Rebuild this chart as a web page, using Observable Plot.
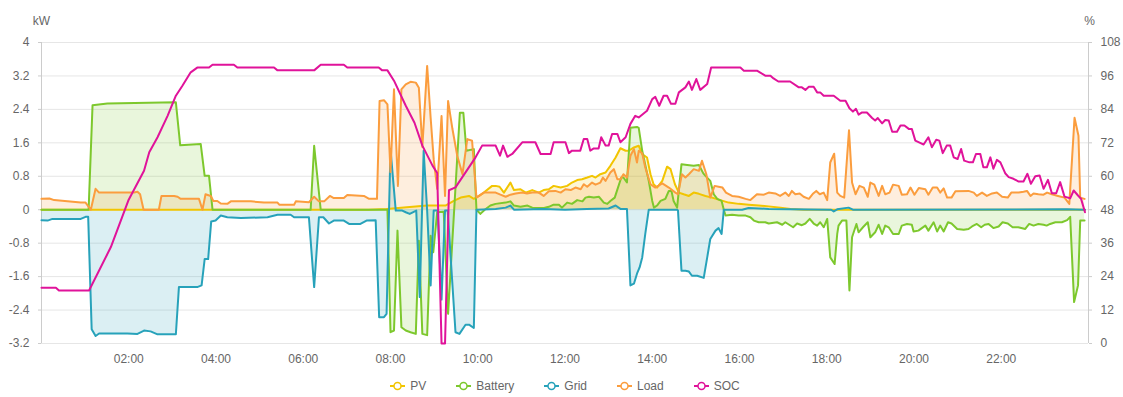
<!DOCTYPE html>
<html><head><meta charset="utf-8">
<script src="https://cdn.jsdelivr.net/npm/d3@7"></script>
<script src="https://cdn.jsdelivr.net/npm/@observablehq/plot@0.6"></script>
<style>
body{margin:0;background:#fff;font-family:"Liberation Sans",Arial,sans-serif;}
#legend{display:flex;justify-content:center;gap:30px;height:32px;align-items:center;padding-top:9px;padding-left:7px;box-sizing:border-box;font-size:12px;color:#666;}
.item{display:flex;align-items:center;gap:5px;}
</style></head><body>
<div id="chart"></div><div id="legend"></div>
<script>
// time in hours of day, values in kW (SOC in %)
const pvData = [[0,0],[7.5,0],[7.91,0.02],[8.84,0.1],[9.26,0.1],[9.45,0.21],[9.61,0.29],[9.8,0.33],[9.91,0.26],[10.03,0.33],[10.14,0.41],[10.33,0.57],[10.41,0.57],[10.5,0.55],[10.6,0.41],[10.75,0.65],[10.83,0.47],[10.98,0.49],[11.1,0.41],[11.25,0.47],[11.4,0.41],[11.51,0.47],[11.63,0.49],[11.74,0.57],[11.9,0.53],[12.05,0.57],[12.16,0.65],[12.28,0.71],[12.39,0.73],[12.51,0.77],[12.62,0.81],[12.7,0.77],[12.81,0.85],[12.93,0.89],[13.04,1.05],[13.16,1.25],[13.27,1.47],[13.39,1.41],[13.46,1.41],[13.58,1.49],[13.69,1.53],[13.77,1.33],[13.88,1.25],[13.96,0.85],[14.03,0.61],[14.11,0.53],[14.23,0.69],[14.34,1.03],[14.42,0.97],[14.52,0.61],[14.61,0.41],[14.72,0.37],[14.84,0.33],[14.95,0.41],[15.07,0.38],[15.22,0.33],[15.37,0.29],[15.56,0.23],[15.75,0.17],[15.98,0.14],[16.21,0.12],[16.44,0.1],[16.67,0.08],[16.94,0.05],[17.17,0.02],[17.47,0],[23.92,0]];

const batteryData = [[0,0],[1.08,0],[1.17,2.5],[1.51,2.54],[3.08,2.57],[3.18,1.54],[3.65,1.57],[3.74,0.81],[3.84,0.81],[3.92,0],[6.17,0],[6.25,1.53],[6.4,0],[7.93,0],[8.0,-2.93],[8.08,-2.89],[8.16,-0.5],[8.25,-2.81],[8.35,-2.89],[8.46,-2.93],[8.58,-2.97],[8.65,-0.74],[8.73,-2.97],[8.84,-3.0],[8.92,-0.62],[8.98,-1.02],[9.07,-0.06],[9.22,-0.05],[9.32,-2.49],[9.59,2.32],[9.67,2.32],[9.74,1.41],[9.91,1.45],[9.97,0],[10.06,-0.1],[10.16,0],[10.29,0.1],[10.41,0.14],[10.64,0.17],[10.75,0.2],[10.83,0.1],[10.98,0.07],[11.14,0.1],[11.25,0.05],[11.52,0.04],[11.63,0.07],[11.74,0.12],[11.86,0.12],[11.93,0.05],[12.05,0.17],[12.16,0.14],[12.28,0.23],[12.4,0.2],[12.47,0.29],[12.55,0.31],[12.66,0.29],[12.78,0.31],[12.89,0.17],[12.97,0.14],[13.04,0.21],[13.14,0.29],[13.29,0.77],[13.34,0.77],[13.42,0.65],[13.5,1.96],[13.65,1.98],[13.69,1.96],[13.77,1.41],[13.92,0.69],[14.0,0.21],[14.04,0.05],[14.11,0.1],[14.19,0.21],[14.3,0.26],[14.38,0.45],[14.44,0.45],[14.49,0.21],[14.57,0.05],[14.67,1.09],[14.8,1.07],[14.95,1.05],[15.07,1.07],[15.17,0.87],[15.22,0.81],[15.33,0.69],[15.41,0.37],[15.49,0.26],[15.59,0.21],[15.64,0],[15.68,-0.14],[15.83,-0.12],[15.98,-0.14],[16.14,-0.14],[16.25,-0.18],[16.33,-0.26],[16.44,-0.3],[16.59,-0.3],[16.67,-0.33],[16.86,-0.3],[16.98,-0.36],[17.05,-0.3],[17.23,-0.42],[17.32,-0.33],[17.43,-0.37],[17.51,-0.33],[17.61,-0.22],[17.7,-0.33],[17.78,-0.38],[17.85,-0.3],[17.93,-0.42],[18.01,-0.22],[18.08,-1.14],[18.18,-1.3],[18.24,-0.58],[18.27,-0.38],[18.35,-0.26],[18.45,-0.26],[18.52,-1.93],[18.58,-0.66],[18.68,-0.34],[18.73,-0.54],[18.83,-0.42],[18.94,-0.3],[19.0,-0.66],[19.11,-0.54],[19.19,-0.36],[19.27,-0.58],[19.34,-0.38],[19.42,-0.42],[19.52,-0.58],[19.65,-0.58],[19.72,-0.38],[19.84,-0.34],[19.95,-0.36],[19.99,-0.52],[20.1,-0.5],[20.26,-0.38],[20.33,-0.5],[20.45,-0.3],[20.53,-0.52],[20.6,-0.38],[20.68,-0.52],[20.78,-0.3],[20.86,-0.33],[20.99,-0.46],[21.14,-0.48],[21.25,-0.46],[21.33,-0.4],[21.44,-0.34],[21.54,-0.42],[21.62,-0.36],[21.71,-0.34],[21.82,-0.44],[21.94,-0.4],[22.03,-0.3],[22.15,-0.33],[22.26,-0.42],[22.39,-0.42],[22.55,-0.46],[22.64,-0.34],[22.74,-0.38],[22.85,-0.34],[22.97,-0.36],[23.04,-0.38],[23.12,-0.34],[23.24,-0.3],[23.39,-0.3],[23.51,-0.25],[23.58,-0.17],[23.67,-2.21],[23.76,-1.81],[23.81,-0.26],[23.91,-0.26]];

const gridData = [[0,-0.25],[0.14,-0.26],[0.25,-0.22],[0.9,-0.22],[1.01,-0.17],[1.07,-0.17],[1.15,-2.86],[1.24,-3.02],[1.32,-2.96],[1.97,-2.96],[2.2,-2.97],[2.35,-2.89],[2.5,-2.91],[2.66,-2.98],[3.08,-2.98],[3.15,-1.85],[3.57,-1.85],[3.67,-1.81],[3.74,-1.18],[3.82,-1.18],[3.89,-0.28],[3.99,-0.26],[4.11,-0.14],[4.26,-0.18],[4.57,-0.2],[5.18,-0.18],[5.41,-0.12],[5.71,-0.12],[5.79,-0.18],[6.13,-0.18],[6.25,-1.85],[6.36,-0.18],[6.46,-0.18],[6.59,-0.33],[6.7,-0.26],[6.93,-0.26],[7.05,-0.34],[7.31,-0.34],[7.45,-0.26],[7.66,-0.25],[7.74,-2.57],[7.85,-2.57],[7.91,-2.49],[8.0,1.45],[8.12,-0.02],[8.27,-0.02],[8.35,-0.06],[8.44,-0.1],[8.59,-0.02],[8.67,-2.09],[8.76,1.41],[8.84,-0.02],[8.92,-1.81],[8.99,-0.02],[9.08,-0.02],[9.17,-2.15],[9.25,-0.02],[9.31,-0.02],[9.49,-2.93],[9.58,-2.97],[9.72,-2.75],[9.8,-2.75],[9.91,-2.83],[9.97,0],[10.41,0.02],[10.64,0.05],[10.75,0.1],[10.83,0],[11.5,0.02],[12.0,0],[12.5,0.02],[13.0,0.03],[13.16,0.1],[13.27,0.02],[13.42,0.02],[13.5,-1.81],[13.58,-1.77],[13.65,-1.53],[13.71,-1.38],[13.77,-1.14],[13.84,-0.58],[13.92,0],[14.57,0],[14.59,-0.02],[14.67,-1.46],[14.76,-1.46],[14.84,-1.48],[14.91,-1.58],[15.03,-1.58],[15.18,-1.63],[15.26,-1.14],[15.33,-0.7],[15.45,-0.5],[15.52,-0.44],[15.59,-0.58],[15.64,0],[16.06,0],[16.21,0.04],[16.67,0.02],[18.1,0],[18.16,-0.04],[18.24,0.01],[18.5,0.05],[18.6,0],[23.5,0.01],[23.92,0]];

const loadData = [[0,0.26],[0.18,0.27],[0.29,0.23],[0.9,0.17],[1.01,0.17],[1.13,0],[1.24,0.5],[1.32,0.41],[2.12,0.41],[2.2,0.43],[2.26,0.37],[2.34,0],[2.69,0],[2.75,0.33],[3.04,0.33],[3.12,0.31],[3.19,0.26],[3.61,0.26],[3.69,0],[3.76,0.37],[3.88,0.33],[3.94,0.21],[4.03,0.21],[4.11,0.15],[4.26,0.14],[4.34,0.2],[4.8,0.2],[5.1,0.17],[5.41,0.17],[5.45,0.12],[5.79,0.12],[5.83,0.2],[6.13,0.18],[6.25,0.31],[6.36,0.2],[6.48,0.2],[6.61,0.33],[6.7,0.28],[6.93,0.28],[7.01,0.35],[7.39,0.33],[7.51,0.26],[7.69,0.26],[7.75,2.6],[7.85,2.62],[7.93,2.52],[8.0,0.9],[8.08,2.88],[8.17,0.57],[8.25,2.88],[8.35,3.0],[8.46,3.06],[8.58,3.04],[8.65,2.92],[8.73,1.5],[8.84,3.44],[8.92,2.2],[8.99,1.21],[9.07,0.5],[9.17,2.24],[9.25,0.33],[9.32,2.6],[9.42,1.93],[9.53,1.29],[9.65,0.85],[9.76,1.69],[9.87,1.65],[9.97,0.29],[10.14,0.41],[10.29,0.41],[10.41,0.41],[10.52,0.36],[10.64,0.31],[10.75,0.36],[10.87,0.39],[11.02,0.41],[11.13,0.39],[11.25,0.41],[11.4,0.41],[11.51,0.33],[11.63,0.44],[11.78,0.45],[11.9,0.41],[12.01,0.49],[12.13,0.47],[12.24,0.53],[12.36,0.49],[12.43,0.61],[12.51,0.55],[12.62,0.65],[12.7,0.6],[12.81,0.65],[12.87,0.77],[12.93,0.69],[13.04,0.89],[13.12,0.97],[13.2,0.73],[13.27,0.73],[13.34,0.85],[13.42,0.77],[13.5,1.29],[13.58,1.45],[13.65,1.13],[13.69,1.41],[13.77,1.35],[13.84,1.01],[13.96,0.61],[14.07,0.53],[14.23,0.63],[14.38,0.53],[14.53,0.41],[14.59,0.37],[14.68,0.85],[14.76,0.77],[14.84,0.85],[14.95,0.97],[15.07,0.93],[15.14,1.17],[15.24,0.85],[15.33,0.29],[15.43,0.57],[15.52,0.55],[15.61,0.53],[15.69,0.41],[15.83,0.33],[15.98,0.31],[16.14,0.26],[16.25,0.23],[16.4,0.37],[16.56,0.36],[16.67,0.41],[16.82,0.39],[16.93,0.33],[17.05,0.41],[17.13,0.33],[17.2,0.45],[17.28,0.37],[17.38,0.39],[17.47,0.31],[17.59,0.26],[17.69,0.39],[17.76,0.45],[17.84,0.37],[17.93,0.41],[18.01,0.23],[18.08,1.13],[18.17,1.34],[18.24,0.41],[18.31,0.33],[18.4,0.29],[18.51,1.9],[18.58,0.65],[18.66,0.37],[18.75,0.57],[18.85,0.53],[18.94,0.31],[19.0,0.65],[19.09,0.6],[19.19,0.33],[19.27,0.57],[19.34,0.37],[19.44,0.41],[19.52,0.6],[19.65,0.57],[19.72,0.36],[19.84,0.37],[19.92,0.53],[20.01,0.36],[20.11,0.52],[20.26,0.49],[20.33,0.36],[20.43,0.53],[20.53,0.53],[20.6,0.41],[20.68,0.51],[20.76,0.29],[20.86,0.29],[20.95,0.44],[21.25,0.45],[21.37,0.41],[21.44,0.33],[21.56,0.41],[21.67,0.33],[21.79,0.39],[21.9,0.41],[22.02,0.31],[22.15,0.29],[22.23,0.41],[22.4,0.41],[22.51,0.43],[22.59,0.45],[22.67,0.33],[22.74,0.39],[22.85,0.37],[22.97,0.36],[23.05,0.41],[23.16,0.37],[23.3,0.33],[23.45,0.29],[23.56,0.14],[23.68,2.2],[23.77,1.77],[23.81,0.29],[23.91,0.26]];

const socData = [[0,20],[0.33,20],[0.4,19],[1.09,19],[1.59,34.6],[1.99,51.3],[2.35,62],[2.47,68.6],[2.66,74],[2.89,81.7],[3.08,88.9],[3.23,92.5],[3.42,97.3],[3.57,99],[3.84,99],[3.92,100],[4.41,100],[4.49,99],[5.33,99],[5.41,98],[6.25,98],[6.4,100],[6.93,100],[7.01,99],[7.73,99],[7.81,98],[7.93,98],[8.08,94.3],[8.35,85.3],[8.55,79.2],[8.73,71],[8.96,63.9],[9.07,61.2],[9.17,0],[9.25,0],[9.34,55],[9.49,56],[9.95,66.8],[10.1,71],[10.41,71],[10.51,67.4],[10.58,71],[10.68,67],[10.79,68],[11.02,72.2],[11.32,72.2],[11.44,68],[11.67,68],[11.74,72.2],[12.01,72.2],[12.09,68.3],[12.16,69.2],[12.35,69.2],[12.43,73.4],[12.51,73.4],[12.58,69.2],[12.66,70],[12.77,70],[12.83,74],[12.93,71],[13.0,71],[13.08,75.2],[13.2,75.2],[13.27,72.2],[13.39,74],[13.5,78.8],[13.61,81.7],[13.69,81.1],[13.88,83.5],[14.0,87.7],[14.07,88.5],[14.16,85.3],[14.26,88.9],[14.34,88.9],[14.43,86],[14.53,86],[14.61,90.1],[14.76,91.9],[14.84,94],[14.91,91],[15.01,94.9],[15.1,91],[15.26,93.1],[15.35,99],[16.02,99],[16.1,97.9],[16.4,97.9],[16.59,96.1],[16.71,96.1],[16.78,95.1],[16.89,94],[17.16,94],[17.36,91.9],[17.43,91.9],[17.51,91],[17.59,92.1],[17.7,92.1],[17.78,90.1],[17.85,90.1],[17.93,88.9],[18.16,88.9],[18.31,87.1],[18.43,87.1],[18.52,84.4],[18.6,83.2],[18.67,84.2],[18.73,82.1],[18.81,82.9],[18.92,82.9],[19.04,80.9],[19.11,80],[19.17,80.9],[19.27,79],[19.34,80.2],[19.42,80],[19.5,76],[19.61,76],[19.69,78.2],[19.78,78.2],[19.88,77],[19.95,77],[20.03,72.8],[20.14,72],[20.22,71.4],[20.33,74],[20.41,70.4],[20.51,73.1],[20.58,72.8],[20.66,68.3],[20.75,71],[20.83,71],[20.91,66.8],[21.0,66.2],[21.08,69.8],[21.15,65.6],[21.27,65],[21.35,65],[21.42,68],[21.52,68],[21.59,63.2],[21.67,63.2],[21.75,66.8],[21.82,62.7],[21.9,65.9],[21.98,65],[22.09,61.1],[22.17,59.7],[22.28,59.1],[22.4,58.1],[22.51,58.1],[22.6,60.9],[22.68,57.3],[22.78,60],[22.88,60.3],[22.97,55.5],[23.07,58.7],[23.16,53.9],[23.26,53.9],[23.35,57.9],[23.45,52.7],[23.58,52.1],[23.66,54.9],[23.76,53.1],[23.83,51.9],[23.92,47.1]];

const seriesNames = ["PV","Battery","Grid","Load","SOC"];
const seriesColors = ["#f2c500","#7dc82d","#27a2ba","#fb9d3e","#e0139a"];
const kwTicks = [-3.2,-2.4,-1.6,-0.8,0,0.8,1.6,2.4,3.2,4];
const socTicks = [0,12,24,36,48,60,72,84,96,108];
const hourTicks = [2,4,6,8,10,12,14,16,18,20,22];
const xDomain = [0,24];

// SOC (%) shares the frame with kW: 0% ↔ -3.2 kW, 108% ↔ 4 kW
const socToKw = s => (s - 48) / 15;
const rows = (arr) => arr.map(([h, v]) => ({h, v}));
const kwSeries = [pvData, batteryData, gridData, loadData];

const marks = [
  Plot.gridY(kwTicks, {stroke:"#e6e6e6", strokeOpacity:1}),
  Plot.ruleX([xDomain[0]], {stroke:"#ccc"}),
  Plot.ruleX([xDomain[1]], {stroke:"#ccc"}),
  Plot.axisY(kwTicks, {anchor:"left", label:null, tickSize:3, tickPadding:9, stroke:"#ccc", fill:"#666", fontSize:12, tickFormat: d => String(d)}),
  Plot.axisY(socTicks.map(socToKw), {anchor:"right", label:null, tickSize:3, tickPadding:9, stroke:"#ccc", fill:"#666", fontSize:12, tickFormat: d => String(Math.round(d * 15 + 48))}),
  Plot.axisX(hourTicks, {anchor:"bottom", label:null, tickSize:0, tickPadding:11, fill:"#666", fontSize:12, tickFormat: h => String(h).padStart(2,"0") + ":00"}),
  Plot.text(["kW"], {frameAnchor:"top-left", dy:-26, textAnchor:"middle", fill:"#666", fontSize:12}),
  Plot.text(["%"], {frameAnchor:"top-right", dy:-26, dx:1, textAnchor:"middle", fill:"#666", fontSize:12}),
];
kwSeries.forEach((arr, i) => {
  marks.push(Plot.areaY(rows(arr), {x:"h", y:"v", fill: seriesColors[i], fillOpacity:0.17}));
});
kwSeries.forEach((arr, i) => {
  marks.push(Plot.lineY(rows(arr), {x:"h", y:"v", stroke: seriesColors[i], strokeWidth:2}));
});
marks.push(Plot.lineY(rows(socData), {x:"h", y: d => socToKw(d.v), stroke: seriesColors[4], strokeWidth:2}));

const chart = Plot.plot({
  width: 1123, height: 365,
  marginLeft: 41, marginRight: 35, marginTop: 42, marginBottom: 22,
  style: {fontFamily: '"Liberation Sans", Arial, sans-serif', fontSize: "12px", color: "#666", background: "#fff", overflow: "visible"},
  x: {domain: xDomain, axis: null},
  y: {domain: [kwTicks[0], kwTicks[kwTicks.length-1]], axis: null},
  marks
});
document.getElementById("chart").appendChild(chart);

const legend = document.getElementById("legend");
seriesNames.forEach((name, i) => {
  const c = seriesColors[i];
  const item = document.createElement("div");
  item.className = "item";
  item.innerHTML = `<svg width="15" height="10"><line x1="0" y1="5" x2="15" y2="5" stroke="${c}" stroke-width="2"/><circle cx="7.5" cy="5" r="3.5" fill="#fff" stroke="${c}" stroke-width="1.5"/></svg><span>${name}</span>`;
  legend.appendChild(item);
});
</script>
</body></html>
